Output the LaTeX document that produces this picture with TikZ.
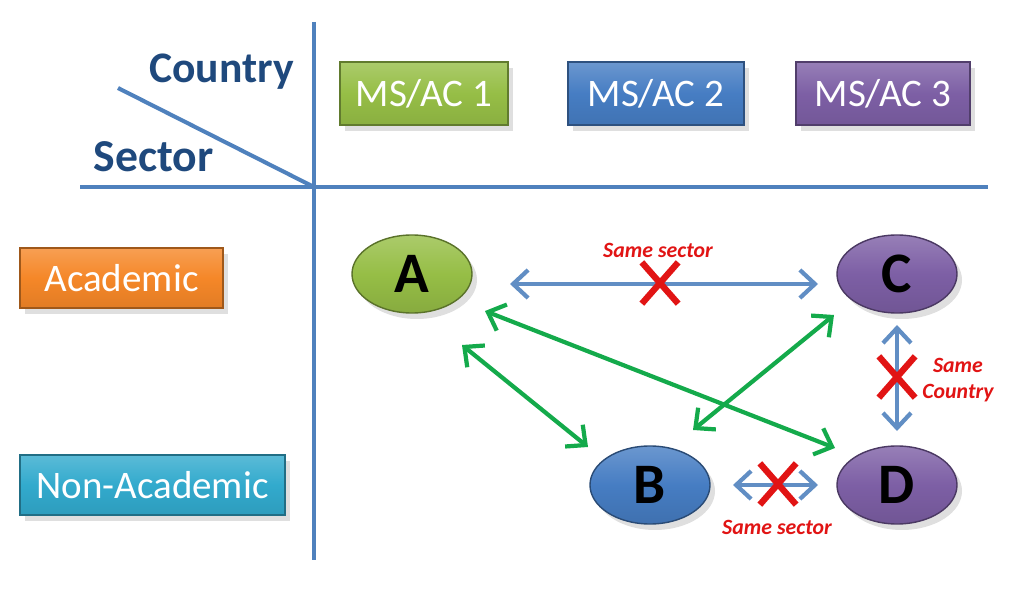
\documentclass[tikz,border=0pt]{standalone}
\usepackage{fontspec}
\setmainfont{Carlito}
\usepackage{xcolor}
\usepackage{tikz}
\usetikzlibrary{calc,shapes.geometric,shapes.misc,shadows,arrows.meta}
\definecolor{axisblue}{RGB}{79,129,189}
\definecolor{titleblue}{RGB}{31,73,125}
\definecolor{msgreen}{RGB}{150,190,70}
\definecolor{msblue}{RGB}{70,125,195}
\definecolor{mspurple}{RGB}{125,95,165}
\definecolor{msorange}{RGB}{245,135,40}
\definecolor{msaqua}{RGB}{50,170,205}
\definecolor{linkgreen}{RGB}{20,170,75}
\definecolor{nored}{RGB}{225,20,20}
\tikzset{>={Straight Barb[length=1.5mm,width=2.8mm]},
  axis/.style={axisblue, line width=1.15pt},
  corner/.style={text=titleblue, font=\fontsize{12.4}{14}\selectfont\bfseries},
  header/.style={rectangle, draw=#1!65!black, line width=0.4pt,
    top color=#1!80!white, bottom color=#1!92!black, middle color=#1, text=white,
    minimum height=0.63cm, inner sep=0pt, font=\fontsize{11.1}{13}\selectfont,
    drop shadow={opacity=0.25,shadow xshift=0.5mm,shadow yshift=-0.6mm}},
  partner/.style={ellipse, draw=#1!60!black, line width=0.4pt,
    top color=#1!80!white, bottom color=#1!90!black, middle color=#1,
    minimum width=1.2cm, minimum height=0.78cm, inner sep=0pt,
    font=\fontsize{16.3}{18}\selectfont\bfseries,
    drop shadow={opacity=0.25,shadow xshift=0.5mm,shadow yshift=-0.6mm}},
  bluelink/.style={<->, axisblue!90!white, line width=1.2pt},
  greenlink/.style={<->, linkgreen, line width=1.2pt},
  nolink/.style={cross out, draw=nored, line width=1.8pt,
    minimum width=0.3cm, minimum height=0.35cm, inner sep=0pt},
  nolabel/.style={text=nored, font=\fontsize{6.2}{7.4}\selectfont\bfseries\itshape, align=center}
}
\begin{document}
\begin{tikzpicture}
\useasboundingbox (0,0) rectangle (10.24,6);
% table axes
\draw[axis] (3.14,5.78) -- (3.14,0.40);
\draw[axis] (0.80,4.13) -- (9.88,4.13);
\draw[axis] (1.18,5.12) -- (3.14,4.13);
\node[corner, anchor=base] (country) at (2.215,5.17) {Country};
\node[corner, font=\fontsize{13}{15}\selectfont\bfseries, anchor=base] (sector) at (1.535,4.28) {Sector};
% column heads
\node[header=msgreen, minimum width=1.68cm] (ms1) at (4.24,5.065) {MS/AC 1};
\node[header=msblue, minimum width=1.76cm] (ms2) at (6.56,5.065) {MS/AC 2};
\node[header=mspurple, minimum width=1.74cm] (ms3) at (8.83,5.065) {MS/AC 3};
% row heads
\node[header=msorange, minimum width=2.03cm, minimum height=0.60cm] (acad) at (1.215,3.22) {Academic};
\node[header=msaqua, minimum width=2.65cm, minimum height=0.60cm] (nonacad) at (1.525,1.15) {Non-Academic};
% partners
\node[partner=msgreen] (A) at (4.12,3.26) {A};
\node[partner=mspurple] (C) at (8.97,3.26) {C};
\node[partner=msblue] (B) at (6.50,1.15) {B};
\node[partner=mspurple] (D) at (8.97,1.15) {D};
% allowed links
\draw[greenlink] ($(A)+(0.50,-0.71)$) -- ($(B)+(-0.62,0.38)$);
\draw[greenlink] ($(A)+(0.73,-0.37)$) -- ($(D)+(-0.62,0.37)$);
\draw[greenlink] ($(C)+(-0.63,-0.41)$) -- ($(B)+(0.43,0.55)$);
% excluded links
\draw[bluelink] ($(A)+(0.98,-0.10)$) -- ($(C)+(-0.79,-0.10)$);
\draw[bluelink] ($(C)+(0,-0.51)$) -- ($(D)+(0,0.54)$);
\draw[bluelink] ($(B)+(0.83,0)$) -- ($(D)+(-0.79,0)$);
\node[nolink] (xac) at (6.60,3.17) {};
\node[nolink] (xcd) at (8.97,2.23) {};
\node[nolink] (xbd) at (7.78,1.16) {};
\node[nolabel] (lac) at (6.58,3.50) {Same sector};
\node[nolabel] (lcd) at (9.58,2.20) {Same\\Country};
\node[nolabel] (lbd) at (7.77,0.73) {Same sector};
\end{tikzpicture}
\end{document}
